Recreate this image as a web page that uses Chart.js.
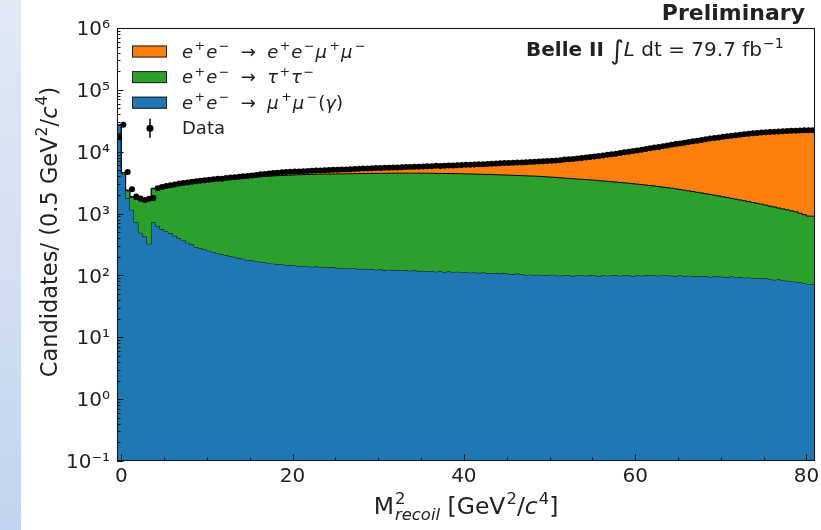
<!DOCTYPE html>
<html>
<head>
<meta charset="utf-8">
<title>Recoil mass squared</title>
<script src="https://cdn.jsdelivr.net/npm/chart.js@4.4.1/dist/chart.umd.min.js"></script>
<style>
  html, body { margin: 0; padding: 0; background: #fff; }
  body { width: 821px; height: 530px; position: relative; overflow: hidden; }
  .band {
    position: absolute; left: 0; top: 0; width: 21px; height: 530px;
    background: linear-gradient(to bottom, #e1e9f5 0%, #d6e2f3 40%, #c9daf0 75%, #c2d5ee 100%);
  }
  #wrap { position: absolute; left: 0; top: 0; width: 821px; height: 530px; }
</style>
</head>
<body>
<div class="band"></div>
<div id="wrap"><canvas id="recoilChart" width="821" height="530"></canvas></div>
<script>
// binning of the histogram: 0.5 GeV^2/c^4 bins from -0.5 to 81
const binWidth = 0.5;
const xStart = -0.5;
const xEnd = 81;

// e+e- -> mu+mu-(gamma)
const mumu = [
  17000, 27000, 4300, 1780, 1150, 725, 490, 425, 325, 724,
  631, 562, 513, 479, 437, 398, 372, 339, 316, 288,
  275, 263, 251, 240, 229, 219, 214, 204, 200, 191,
  186, 178, 174, 170, 166, 162, 158, 155, 151, 152,
  148, 147, 145, 141, 143, 140, 138, 139, 136, 138,
  134, 135, 131, 133, 130, 129, 131, 127, 128, 126,
  127, 124, 126, 122, 124, 121, 123, 120, 122, 119,
  121, 117, 119, 116, 118, 115, 117, 114, 116, 113,
  115, 112, 114, 111, 113, 110, 112, 109, 108, 110,
  107, 109, 106, 105, 107, 104, 102, 103, 101, 103,
  102, 100, 103, 101, 99, 102, 100, 98, 101, 100,
  99, 102, 100, 98, 101, 99, 100, 102, 99, 101,
  100, 98, 101, 99, 102, 100, 101, 99, 100, 101,
  99, 98, 100, 97, 99, 98, 96, 98, 97, 95,
  96, 97, 95, 94, 96, 93, 94, 92, 93, 91,
  90, 89, 90, 87, 85, 86, 83, 82, 80, 79,
  77, 75, 73
];

// e+e- -> tau+tau-
const tautau = [
  0, 0, 250, 560, 680, 965, 1110, 1265, 1405, 1796,
  1969, 2128, 2257, 2371, 2483, 2592, 2688, 2791, 2874, 2962,
  3035, 3107, 3169, 3230, 3291, 3351, 3406, 3456, 3500, 3549,
  3594, 3642, 3686, 3730, 3774, 3818, 3862, 3905, 3949, 3978,
  4012, 4043, 4075, 4099, 4117, 4140, 4162, 4181, 4204, 4212,
  4226, 4235, 4249, 4257, 4270, 4281, 4289, 4303, 4312, 4324,
  4333, 4346, 4349, 4358, 4361, 4369, 4372, 4380, 4378, 4381,
  4379, 4383, 4376, 4374, 4362, 4355, 4343, 4336, 4324, 4317,
  4300, 4288, 4271, 4259, 4237, 4220, 4198, 4181, 4162, 4140,
  4123, 4096, 4074, 4050, 4023, 4001, 3978, 3952, 3929, 3897,
  3858, 3820, 3777, 3739, 3691, 3638, 3600, 3562, 3519, 3480,
  3441, 3398, 3360, 3312, 3269, 3221, 3180, 3128, 3081, 3039,
  2990, 2942, 2889, 2841, 2788, 2740, 2689, 2631, 2580, 2519,
  2471, 2412, 2350, 2293, 2231, 2172, 2114, 2052, 1993, 1945,
  1884, 1833, 1775, 1726, 1664, 1617, 1566, 1518, 1467, 1419,
  1370, 1331, 1280, 1233, 1195, 1144, 1107, 1068, 1030, 991,
  933, 885, 837
];

// e+e- -> e+e-mu+mu-
const eemumu = [
  0, 0, 40, 60, 50, 45, 40, 40, 45, 50,
  90, 100, 100, 100, 110, 120, 120, 130, 140, 150,
  160, 160, 170, 180, 180, 190, 200, 220, 240, 260,
  280, 320, 360, 400, 430, 460, 490, 510, 540, 570,
  580, 590, 590, 610, 620, 640, 650, 670, 680, 710,
  730, 750, 780, 800, 830, 850, 870, 900, 920, 950,
  970, 990, 1015, 1040, 1065, 1090, 1115, 1140, 1170, 1200,
  1230, 1260, 1305, 1340, 1390, 1430, 1480, 1520, 1570, 1620,
  1675, 1730, 1785, 1840, 1910, 1970, 2040, 2110, 2180, 2250,
  2310, 2375, 2440, 2515, 2590, 2665, 2740, 2815, 2890, 2980,
  3090, 3210, 3340, 3470, 3620, 3780, 3940, 4110, 4290, 4480,
  4660, 4860, 5070, 5300, 5530, 5780, 6030, 6300, 6580, 6860,
  7160, 7470, 7790, 8120, 8460, 8810, 9170, 9550, 9920, 10310,
  10700, 11110, 11530, 11960, 12400, 12840, 13290, 13740, 14190, 14630,
  15070, 15500, 15930, 16340, 16750, 17140, 17520, 17890, 18250, 18590,
  18920, 19220, 19510, 19780, 20020, 20250, 20450, 20630, 20790, 20930,
  21190, 21340, 21390
];

// measured candidates
const counts = [
  17200, 27200, 4680, 2480, 1880, 1750, 1660, 1730, 1780, 2570,
  2690, 2790, 2870, 2950, 3060, 3110, 3180, 3260, 3330, 3400,
  3470, 3530, 3590, 3650, 3670, 3760, 3820, 3880, 3940, 4000,
  4060, 4140, 4220, 4340, 4370, 4440, 4510, 4570, 4640, 4700,
  4740, 4780, 4810, 4850, 4880, 4920, 4950, 4990, 5020, 5060,
  5090, 5120, 5160, 5150, 5230, 5260, 5290, 5330, 5360, 5400,
  5430, 5460, 5490, 5520, 5550, 5580, 5610, 5640, 5670, 5700,
  5730, 5760, 5800, 5830, 5920, 5900, 5940, 5970, 6010, 6050,
  6090, 6130, 6170, 6210, 6260, 6300, 6350, 6400, 6450, 6500,
  6540, 6580, 6620, 6670, 6680, 6770, 6820, 6870, 6920, 6980,
  7050, 7130, 7220, 7310, 7460, 7520, 7640, 7770, 7910, 8060,
  8200, 8360, 8530, 8710, 8900, 9100, 9310, 9530, 9760, 10000,
  10250, 10510, 10780, 11060, 11350, 11650, 11960, 12280, 12600, 12930,
  13270, 13620, 13980, 14350, 14730, 15110, 15500, 15890, 16280, 16670,
  17050, 17430, 17800, 18160, 18510, 18850, 19180, 19500, 19810, 20100,
  20380, 20640, 20880, 21100, 21300, 21480, 21640, 21780, 21900, 22000,
  22200, 22300, 22300
];

const xTicks = [0, 20, 40, 60, 80];
const xMinorTicks = [5, 10, 15, 25, 30, 35, 45, 50, 55, 65, 70, 75];
const yTicks = [0.1, 1, 10, 100, 1000, 10000, 100000, 1000000];
const yTickLabels = ['10⁻¹', '10⁰', '10¹', '10²', '10³', '10⁴', '10⁵', '10⁶'];

const colMuMu = '#1f77b4';
const colTauTau = '#2ca02c';
const colEEMuMu = '#ff7f0e';
const FONT = '"DejaVu Sans"';
const TEXT = '#222';

// step outline: one point per left bin edge, last value repeated at the right edge
function stepPoints(values) {
  const pts = values.map((v, i) => ({ x: xStart + i * binWidth, y: v }));
  pts.push({ x: xStart + values.length * binWidth, y: values[values.length - 1] });
  return pts;
}

const stackMuMu = mumu.slice();
const stackTauTau = mumu.map((v, i) => v + tautau[i]);
const stackAll = stackTauTau.map((v, i) => v + eemumu[i]);
const dataPoints = counts.map((v, i) => ({ x: xStart + (i + 0.5) * binWidth, y: v }));

// text pieces for the mixed-style labels
const n = (t) => ({ t });
const it = (t) => ({ t, s: 'italic' });
const bf = (t) => ({ t, s: 'bold' });
const sup = (t, pre = 0) => ({ t, sh: 1, pre });
const sub = (t) => ({ t, s: 'italic', sh: -1 });
const gap = (w) => ({ t: '', pre: w });

function richText(ctx, parts, size, x, y, draw) {
  let cx = x;
  let hold = 0;
  parts.forEach((p) => {
    cx += p.pre || 0;
    const sz = (p.sh ? size * 0.7 : size) * (p.k || 1);
    ctx.font = (p.s || '') + ' ' + sz + 'px ' + FONT;
    const dy = (p.sh === 1 ? -size * 0.42 : p.sh === -1 ? size * 0.24 : 0) + (p.dy || 0);
    if (draw) ctx.fillText(p.t, cx, y + dy);
    const w = ctx.measureText(p.t).width;
    if (p.keep) {
      hold = Math.max(hold, w);
    } else {
      cx += Math.max(w, hold);
      hold = 0;
    }
  });
  return cx - x;
}

const eePair = [it('e'), sup('+', 1.5), gap(1), it('e'), sup('−', 1.5), n('  →  ')];
const legendRows = [
  { color: colEEMuMu, parts: eePair.concat([it('e'), sup('+', 1.5), gap(1), it('e'), sup('−', 1.5), gap(1), it('μ'), sup('+', 2.5), gap(1), it('μ'), sup('−', 2.5)]) },
  { color: colTauTau, parts: eePair.concat([it('τ'), sup('+', 1.5), gap(1), it('τ'), sup('−', 1.5)]) },
  { color: colMuMu, parts: eePair.concat([it('μ'), sup('+', 2.5), gap(1), it('μ'), sup('−', 2.5), gap(1), n('('), it('γ'), n(')')]) }
];
const lumiParts = [bf('Belle II'), n(' '), { t: '∫', k: 1.3, dy: 3 }, it('L'), n(' dt = 79.7 fb'), sup('−1', 1)];
const yTitleParts = [n('Candidates/ (0.5 GeV'), sup('2', 1), n('/'), it('c'), sup('4', 1), n(')')];
const xTitleParts = [n('M'), { t: '2', sh: 1, keep: true, pre: 1 }, sub('recoil'), n(' [GeV'), sup('2', 1), n('/'), it('c'), sup('4', 1), n(']')];

// frame and inward ticks on top of the filled stacks
const frameTicks = {
  id: 'frameTicks',
  afterDatasetsDraw(chart) {
    const { ctx, chartArea: a, scales } = chart;
    const x = scales.x;
    const y = scales.y;
    ctx.save();
    ctx.strokeStyle = '#111';
    ctx.lineWidth = 1;
    ctx.beginPath();
    xTicks.forEach((v) => {
      const px = Math.round(x.getPixelForValue(v)) + 0.5;
      ctx.moveTo(px, a.bottom);
      ctx.lineTo(px, a.bottom - 6.5);
    });
    xMinorTicks.forEach((v) => {
      const px = Math.round(x.getPixelForValue(v)) + 0.5;
      ctx.moveTo(px, a.bottom);
      ctx.lineTo(px, a.bottom - 3.5);
    });
    yTicks.forEach((v, i) => {
      const py = Math.round(y.getPixelForValue(v)) + 0.5;
      ctx.moveTo(a.left, py);
      ctx.lineTo(a.left + 6.5, py);
      if (i < yTicks.length - 1) {
        for (let m = 2; m <= 9; m++) {
          const pm = Math.round(y.getPixelForValue(v * m)) + 0.5;
          ctx.moveTo(a.left, pm);
          ctx.lineTo(a.left + 3.5, pm);
        }
      }
    });
    ctx.stroke();
    ctx.lineWidth = 1.1;
    ctx.strokeStyle = '#1a1a1a';
    ctx.strokeRect(a.left + 0.5, a.top + 0.5, a.right - a.left - 1, a.bottom - a.top - 1);
    ctx.restore();
  }
};

// legend, labels and axis titles
const annotations = {
  id: 'annotations',
  afterDraw(chart) {
    const { ctx, chartArea: a } = chart;
    ctx.save();
    ctx.fillStyle = TEXT;
    ctx.textBaseline = 'alphabetic';
    ctx.textAlign = 'left';

    // Preliminary
    ctx.font = 'bold 22px ' + FONT;
    ctx.textAlign = 'right';
    ctx.fillText('Preliminary', 805, 20);
    ctx.textAlign = 'left';

    // luminosity label
    richText(ctx, lumiParts, 20, 526, 56, true);

    // legend
    legendRows.forEach((row, i) => {
      const cy = 51.5 + i * 25.6;
      ctx.fillStyle = row.color;
      ctx.fillRect(132, cy - 6, 35, 12);
      ctx.strokeStyle = '#222';
      ctx.lineWidth = 1;
      ctx.strokeRect(132.5, cy - 5.5, 34, 11);
      ctx.fillStyle = TEXT;
      richText(ctx, row.parts, 18, 182, cy + 6, true);
    });
    const dy = 51.5 + 3 * 25.6;
    ctx.strokeStyle = '#000';
    ctx.lineWidth = 1.5;
    ctx.beginPath();
    ctx.moveTo(150, dy - 9.5);
    ctx.lineTo(150, dy + 9.5);
    ctx.stroke();
    ctx.fillStyle = '#000';
    ctx.beginPath();
    ctx.arc(150, dy, 3.5, 0, Math.PI * 2);
    ctx.fill();
    ctx.fillStyle = TEXT;
    ctx.font = '18px ' + FONT;
    ctx.fillText('Data', 182, dy + 6);

    // x axis title, centred on the plot
    const xw = richText(ctx, xTitleParts, 23.5, 0, 0, false);
    richText(ctx, xTitleParts, 23.5, (a.left + a.right) / 2 - xw / 2, 514, true);

    // y axis title, rotated
    const yw = richText(ctx, yTitleParts, 22.5, 0, 0, false);
    ctx.translate(56.5, 232);
    ctx.rotate(-Math.PI / 2);
    richText(ctx, yTitleParts, 22.5, -yw / 2, 0, true);
    ctx.restore();
  }
};

const ctx = document.getElementById('recoilChart');
new Chart(ctx, {
  type: 'line',
  data: {
    datasets: [
      {
        label: 'mumu',
        data: stepPoints(stackMuMu),
        stepped: 'after',
        fill: 'start',
        backgroundColor: colMuMu,
        borderColor: '#000',
        borderWidth: 1,
        pointRadius: 0,
        order: 3
      },
      {
        label: 'tautau',
        data: stepPoints(stackTauTau),
        stepped: 'after',
        fill: '-1',
        backgroundColor: colTauTau,
        borderColor: '#000',
        borderWidth: 1,
        pointRadius: 0,
        order: 2
      },
      {
        label: 'eemumu',
        data: stepPoints(stackAll),
        stepped: 'after',
        fill: '-1',
        backgroundColor: colEEMuMu,
        borderColor: '#000',
        borderWidth: 1,
        pointRadius: 0,
        order: 4
      },
      {
        label: 'Data',
        data: dataPoints,
        showLine: false,
        fill: false,
        pointRadius: 3,
        pointBorderWidth: 0,
        pointBackgroundColor: '#000',
        order: 0
      }
    ]
  },
  options: {
    responsive: false,
    animation: false,
    devicePixelRatio: 1,
    layout: { padding: { left: 0, top: 28, right: 6, bottom: 0 } },
    plugins: {
      legend: { display: false },
      tooltip: { enabled: false },
      title: { display: false }
    },
    scales: {
      x: {
        type: 'linear',
        min: xStart,
        max: xEnd,
        grid: { display: false, drawTicks: false },
        border: { display: false },
        afterBuildTicks: (scale) => { scale.ticks = xTicks.map((v) => ({ value: v })); },
        afterFit: (scale) => {
          scale.height = 69;
          scale.paddingLeft = 0;
          scale.paddingRight = 0;
        },
        ticks: {
          autoSkip: false,
          maxRotation: 0,
          padding: 4,
          color: TEXT,
          font: { family: 'DejaVu Sans', size: 20 }
        }
      },
      y: {
        type: 'logarithmic',
        min: 0.1,
        max: 1e6,
        grid: { display: false, drawTicks: false },
        border: { display: false },
        afterBuildTicks: (scale) => { scale.ticks = yTicks.map((v) => ({ value: v })); },
        afterFit: (scale) => {
          scale.width = 117;
          scale.paddingTop = 0;
          scale.paddingBottom = 0;
        },
        ticks: {
          autoSkip: false,
          padding: 7,
          labelOffset: 2,
          color: TEXT,
          font: { family: 'DejaVu Sans', size: 20 },
          callback: (v) => {
            const i = yTicks.findIndex((t) => Math.abs(t - v) / t < 1e-6);
            return i >= 0 ? yTickLabels[i] : '';
          }
        }
      }
    }
  },
  plugins: [frameTicks, annotations]
});
</script>
</body>
</html>
